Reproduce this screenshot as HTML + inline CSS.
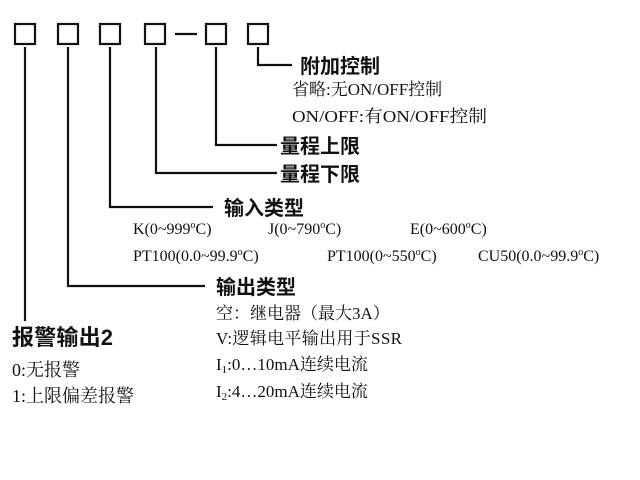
<!DOCTYPE html>
<html><head><meta charset="utf-8"><style>
body{margin:0;background:#fff}
svg{display:block}
text{font-family:"Liberation Serif","Noto Serif CJK SC",serif;fill:#111}
.b{font-family:"Liberation Sans","Noto Sans CJK SC",sans-serif;font-weight:bold;font-size:20px}
.s{font-size:16px}
.m{font-size:17px}
.l{font-size:18px}
</style></head><body>
<svg width="640" height="480" viewBox="0 0 640 480" xmlns="http://www.w3.org/2000/svg">
<g fill="none" stroke="#111" stroke-width="2.2">
<rect x="15" y="24" width="20" height="20"/>
<rect x="58" y="24" width="20" height="20"/>
<rect x="100" y="24" width="20" height="20"/>
<rect x="145" y="24" width="20" height="20"/>
<rect x="206" y="24" width="20" height="20"/>
<rect x="248" y="24" width="20" height="20"/>
<line x1="175" y1="34" x2="197" y2="34"/>
<polyline points="25,47 25,321"/>
<polyline points="68,47 68,286 205,286"/>
<polyline points="110,47 110,207 213,207"/>
<polyline points="156,47 156,173 277,173"/>
<polyline points="216,47 216,145 277,145"/>
<polyline points="258,47 258,65 292,65"/>
</g>
<text class="b" x="300" y="73">附加控制</text>
<text class="m" x="292" y="95">省略:无ON/OFF控制</text>
<text class="m" x="292" y="122" textLength="195" lengthAdjust="spacingAndGlyphs">ON/OFF:有ON/OFF控制</text>
<text class="b" x="280" y="153">量程上限</text>
<text class="b" x="280" y="181">量程下限</text>
<text class="b" x="224" y="215">输入类型</text>
<text class="s" x="133" y="234">K(0~999<tspan font-size="10" dy="-6">o</tspan><tspan dy="6">C)</tspan></text>
<text class="s" x="268" y="234">J(0~790<tspan font-size="10" dy="-6">o</tspan><tspan dy="6">C)</tspan></text>
<text class="s" x="410" y="234">E(0~600<tspan font-size="10" dy="-6">o</tspan><tspan dy="6">C)</tspan></text>
<text class="s" x="133" y="261">PT100(0.0~99.9<tspan font-size="10" dy="-6">o</tspan><tspan dy="6">C)</tspan></text>
<text class="s" x="327" y="261">PT100(0~550<tspan font-size="10" dy="-6">o</tspan><tspan dy="6">C)</tspan></text>
<text class="s" x="478" y="261">CU50(0.0~99.9<tspan font-size="10" dy="-6">o</tspan><tspan dy="6">C)</tspan></text>
<text class="b" x="216" y="294">输出类型</text>
<text class="m" x="216" y="319">空：继电器（最大3A）</text>
<text class="m" x="216" y="344" textLength="186">V:逻辑电平输出用于SSR</text>
<text class="m" x="216" y="370">I<tspan font-size="11" dy="3">1</tspan><tspan dy="-3">:0…10mA连续电流</tspan></text>
<text class="m" x="216" y="397">I<tspan font-size="11" dy="3">2</tspan><tspan dy="-3">:4…20mA连续电流</tspan></text>
<text class="b" x="12" y="345" style="font-size:22px" textLength="101">报警输出2</text>
<text class="l" x="12" y="376">0:无报警</text>
<text class="l" x="12" y="402">1:上限偏差报警</text>
</svg>
</body></html>
